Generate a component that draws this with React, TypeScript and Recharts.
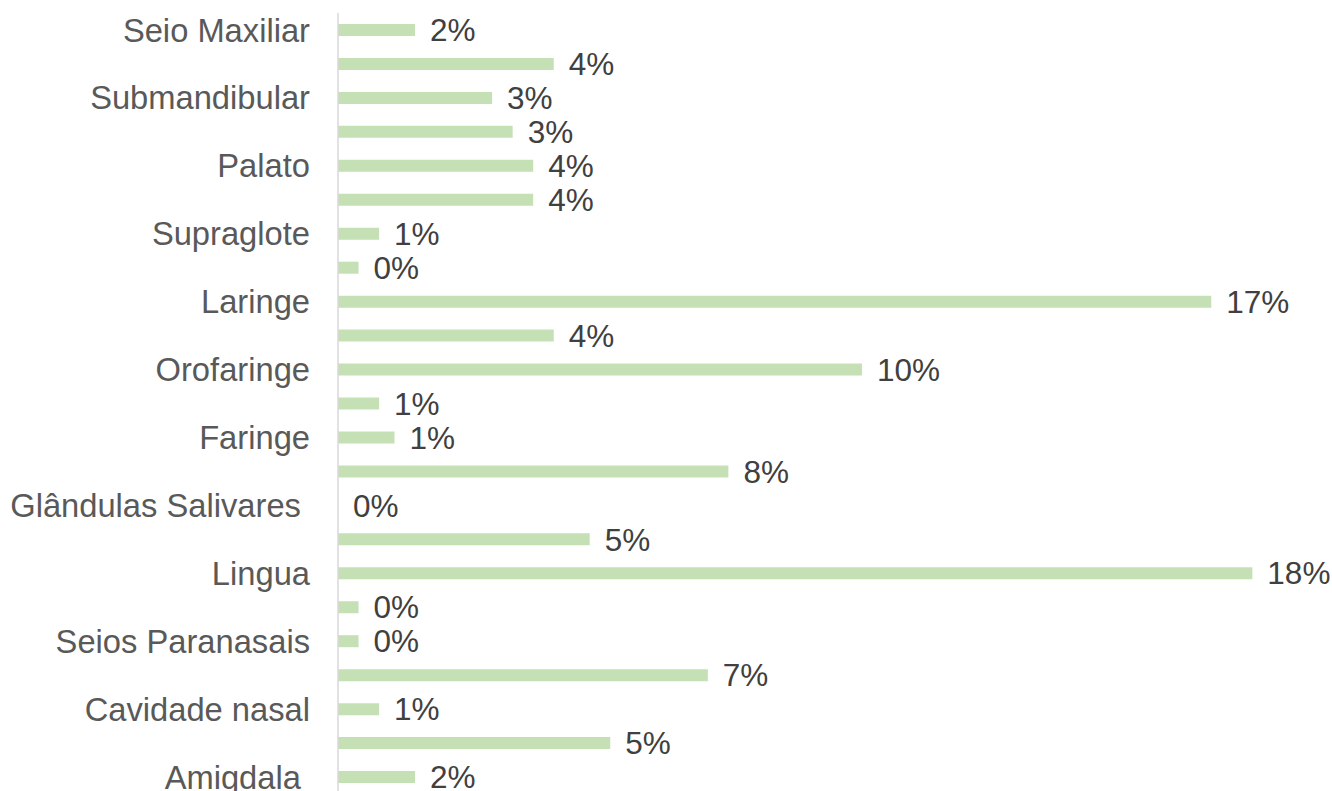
import { Bar, BarChart, LabelList, XAxis, YAxis } from "recharts";

// top to bottom; blank entries are rows whose name is not shown
const categories = [
  "Seio Maxiliar",
  "",
  "Submandibular",
  "",
  "Palato",
  "",
  "Supraglote",
  "",
  "Laringe",
  "",
  "Orofaringe",
  "",
  "Faringe",
  "",
  "Glândulas Salivares\u00A0",
  "",
  "Lingua",
  "",
  "Seios Paranasais",
  "",
  "Cavidade nasal",
  "",
  "Amigdala\u00A0",
];

const shares = [
  1.5, 4.2, 3.0, 3.4, 3.8, 3.8, 0.8, 0.4, 17.0, 4.2, 10.2, 0.8, 1.1, 7.6, 0,
  4.9, 17.8, 0.4, 0.4, 7.2, 0.8, 5.3, 1.5,
];

const data = categories.map((name, i) => ({ id: i, name, value: shares[i] }));

const font = "'Liberation Sans', Arial, sans-serif";

export default function App() {
  return (
    <div
      style={{
        position: "absolute",
        top: 0,
        left: 0,
        width: 1332,
        height: 791,
        overflow: "hidden",
        background: "#fff",
      }}
    >
      <BarChart
        width={1332}
        height={800}
        data={data}
        layout="vertical"
        margin={{ top: 13, right: 18, bottom: 6, left: 0 }}
        barCategoryGap={0}
      >
        <XAxis type="number" domain={[0, 19]} hide />
        <YAxis
          type="category"
          dataKey="id"
          width={338}
          interval={0}
          tickLine={false}
          tickSize={0}
          tickMargin={28}
          axisLine={{ stroke: "#d9d9d9", strokeWidth: 1.5 }}
          tickFormatter={(i: number) => categories[i]}
          tick={{ fill: "#595959", fontSize: 32.7, fontFamily: font }}
        />
        <Bar
          dataKey="value"
          fill="#c5e0b4"
          barSize={12}
          minPointSize={0.01}
          isAnimationActive={false}
        >
          <LabelList
            dataKey="value"
            position="right"
            offset={15}
            formatter={(v: number) => `${Math.round(v)}%`}
            fill="#404040"
            fontSize={31.5}
            fontFamily={font}
          />
        </Bar>
      </BarChart>
    </div>
  );
}
